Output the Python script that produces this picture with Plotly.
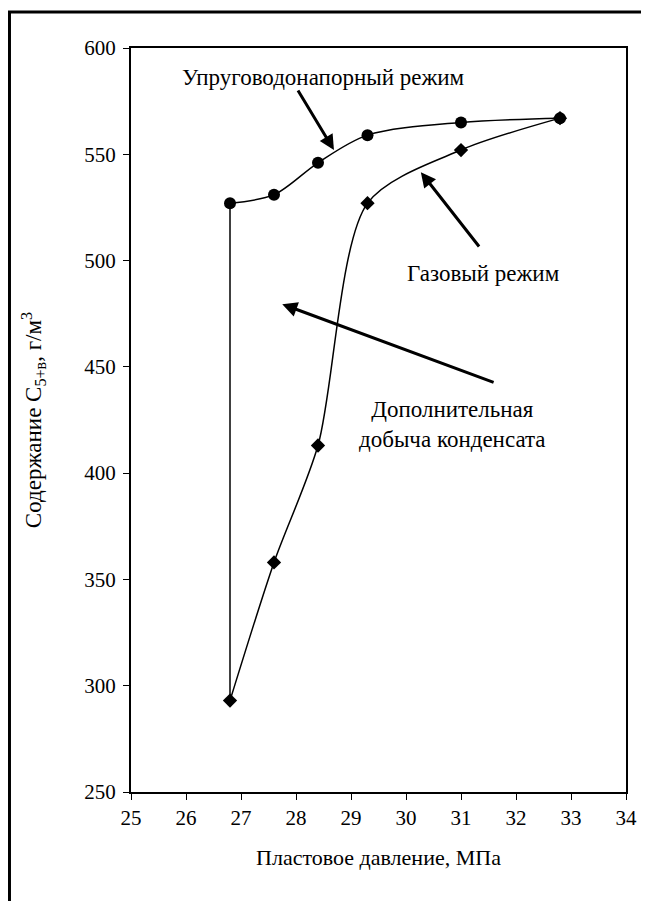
import plotly.graph_objects as go

# Data
pressure = [26.8, 27.6, 28.4, 29.3, 31.0, 32.8]
elastic_water = [527, 531, 546, 559, 565, 567]   # Упруговодонапорный режим
gas_mode = [293, 358, 413, 527, 552, 567]        # Газовый режим
x_ticks = [25, 26, 27, 28, 29, 30, 31, 32, 33, 34]
y_ticks = [250, 300, 350, 400, 450, 500, 550, 600]

FONT = "Liberation Serif"

fig = go.Figure()

# vertical connecting line at the first pressure
fig.add_trace(go.Scatter(
    x=[pressure[0], pressure[0]], y=[gas_mode[0], elastic_water[0]],
    mode="lines", line=dict(color="black", width=1.5), hoverinfo="skip", showlegend=False))

fig.add_trace(go.Scatter(
    x=pressure, y=elastic_water, mode="lines+markers",
    line=dict(color="black", width=1.5, shape="spline", smoothing=0.9),
    marker=dict(symbol="circle", size=12, color="black"), showlegend=False))

fig.add_trace(go.Scatter(
    x=pressure, y=gas_mode, mode="lines+markers",
    line=dict(color="black", width=1.5, shape="spline", smoothing=0.8),
    marker=dict(symbol="diamond", size=11, color="black"), showlegend=False))

arrow = dict(showarrow=True, arrowhead=2, arrowsize=1.0, arrowwidth=3, arrowcolor="black",
             axref="x", ayref="y", text="")
fig.add_annotation(x=28.69, y=552, ax=28.02, ay=580.7, **arrow)
fig.add_annotation(x=30.27, y=541.6, ax=31.35, ay=505.9, **arrow)
fig.add_annotation(x=27.75, y=479.5, ax=31.62, ay=442.4, **arrow)

txt = dict(showarrow=False, font=dict(family=FONT, size=23, color="black"))
fig.add_annotation(x=28.5, y=586, text="Упруговодонапорный режим", **txt)
fig.add_annotation(x=31.4, y=494, text="Газовый режим", **txt)
fig.add_annotation(x=30.85, y=423, text="Дополнительная<br>добыча конденсата", **txt)

# outer frame
fig.add_shape(type="rect", xref="paper", yref="paper",
              x0=-0.2455, x1=1.2, y0=-0.3, y1=1.0484,
              line=dict(color="black", width=3), layer="below")

fig.update_layout(
    width=641, height=893,
    margin=dict(l=123, r=21, t=40, b=109),
    paper_bgcolor="white", plot_bgcolor="white",
    font=dict(family=FONT, size=16, color="black"),
    xaxis=dict(range=[25, 34], tickvals=x_ticks, showgrid=False, zeroline=False,
               showline=True, linecolor="black", linewidth=2, mirror=True,
               ticks="outside", ticklen=6, tickwidth=1, tickcolor="black",
               tickfont=dict(family=FONT, size=21),
               title=dict(text="Пластовое давление, МПа", standoff=20,
                          font=dict(family=FONT, size=22))),
    yaxis=dict(range=[250, 600], tickvals=y_ticks, showgrid=False, zeroline=False,
               showline=True, linecolor="black", linewidth=2, mirror=True,
               ticks="outside", ticklen=6, tickwidth=1, tickcolor="black",
               tickfont=dict(family=FONT, size=21), ticklabelstandoff=3,
               title=dict(text="Содержание C<sub>5+в</sub>, г/м<sup>3</sup>", standoff=36,
                          font=dict(family=FONT, size=23))),
)

fig.write_html("out.html")
